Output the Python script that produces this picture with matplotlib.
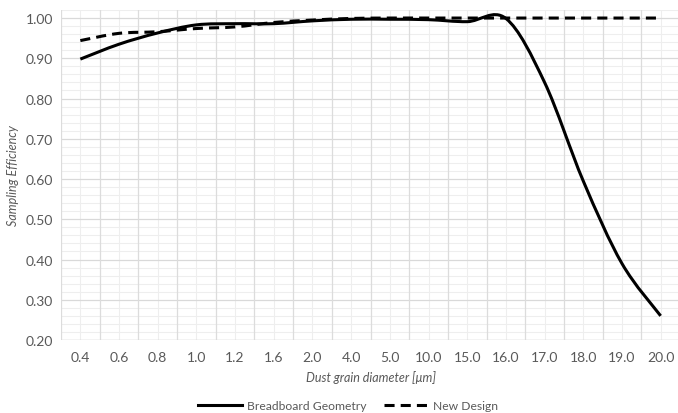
import matplotlib.pyplot as plt
from matplotlib.path import Path
from matplotlib.patches import PathPatch
from matplotlib.lines import Line2D
from matplotlib.ticker import MultipleLocator

plt.rcParams['font.family'] = ['Lato', 'DejaVu Sans']

# Data
sizes = ['0.4', '0.6', '0.8', '1.0', '1.2', '1.6', '2.0', '4.0', '5.0',
         '10.0', '15.0', '16.0', '17.0', '18.0', '19.0', '20.0']
breadboard = [0.898, 0.935, 0.963, 0.983, 0.986, 0.986, 0.993, 0.997, 0.997,
              0.996, 0.991, 0.999, 0.84, 0.595, 0.39, 0.26]
new_design = [0.944, 0.962, 0.966, 0.974, 0.978, 0.989, 0.995, 0.999, 1.0,
              1.0, 1.0, 1.0, 1.0, 1.0, 1.0, 1.0]

grey = '#595959'


def smooth_path(xs, ys):
    # Catmull-Rom style Bezier segments, like a spreadsheet "smoothed line"
    n = len(xs)
    verts = [(xs[0], ys[0])]
    codes = [Path.MOVETO]
    for i in range(n - 1):
        x0, y0 = (xs[i - 1], ys[i - 1]) if i > 0 else (xs[i], ys[i])
        x1, y1 = xs[i], ys[i]
        x2, y2 = xs[i + 1], ys[i + 1]
        x3, y3 = (xs[i + 2], ys[i + 2]) if i + 2 < n else (x2, y2)
        c1 = (x1 + (x2 - x0) / 6, y1 + (y2 - y0) / 6)
        c2 = (x2 - (x3 - x1) / 6, y2 - (y3 - y1) / 6)
        verts += [c1, c2, (x2, y2)]
        codes += [Path.CURVE4] * 3
    return Path(verts, codes)


fig = plt.figure(figsize=(6.78, 4.14), dpi=100)
ax = fig.add_axes([61 / 678, 73 / 414, 619 / 678, 330 / 414])

x = list(range(len(sizes)))
ax.add_patch(PathPatch(smooth_path(x, breadboard), fill=False, color='black',
                       lw=2.2, capstyle='butt', zorder=3))
ax.add_patch(PathPatch(smooth_path(x, new_design), fill=False, color='black',
                       lw=2.2, linestyle=(0, (3.3, 2.0)), capstyle='butt', zorder=4))

ax.set_xlim(-0.5, len(sizes) - 0.5)
ax.set_ylim(0.2, 1.02)
ax.set_xticks(x)
ax.set_xticklabels(sizes)
ax.set_yticks([0.2 + 0.1 * i for i in range(9)])
ax.set_yticklabels(['%.2f' % (0.2 + 0.1 * i) for i in range(9)])
ax.yaxis.set_minor_locator(MultipleLocator(0.02))

# vertical: major lines between categories, minor at categories
for i in range(len(sizes) + 1):
    ax.axvline(i - 0.5, color='#dcdcdc', lw=0.9, zorder=1)
for i in x:
    ax.axvline(i, color='#eeeeee', lw=0.8, zorder=0)
ax.grid(True, axis='y', which='major', color='#d9d9d9', lw=0.9, zorder=1)
ax.grid(True, axis='y', which='minor', color='#eeeeee', lw=0.8, zorder=0)
ax.set_axisbelow(True)

ax.tick_params(which='both', length=0, colors=grey, labelsize=10)
ax.tick_params(axis='x', pad=8)
ax.tick_params(axis='y', pad=5.5)
for s in ax.spines.values():
    s.set_visible(False)
ax.axhline(0.2, color='#d9d9d9', lw=1.0, zorder=2)

ax.set_xlabel('Dust grain diameter [\u03bcm]', fontstyle='italic', color=grey,
              fontsize=9, labelpad=5)
ax.set_ylabel('Sampling Efficiency', fontstyle='italic', color=grey,
              fontsize=9, labelpad=5)

handles = [Line2D([], [], color='black', lw=2.2),
           Line2D([], [], color='black', lw=2.2, linestyle=(0, (3.3, 2.0)))]
leg = fig.legend(handles, ['Breadboard Geometry', 'New Design'], loc='center',
                 bbox_to_anchor=(348 / 678, 1 - 407 / 414), ncol=2, frameon=False,
                 fontsize=8.7, handlelength=3.7, handletextpad=0.35, columnspacing=1.5)
for t in leg.get_texts():
    t.set_color(grey)

fig.savefig('out.png', dpi=100)
